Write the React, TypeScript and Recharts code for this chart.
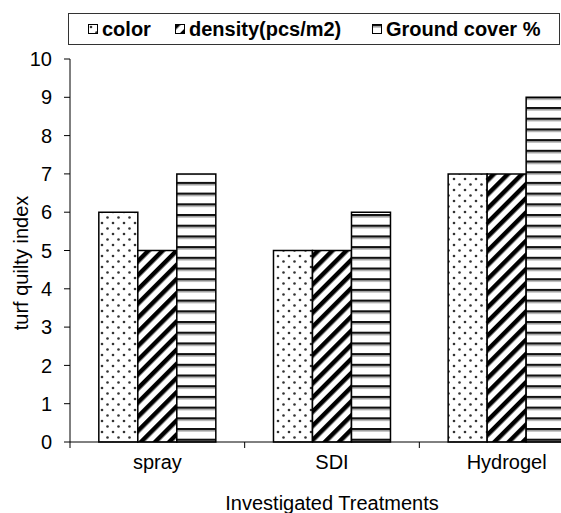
import React from 'react';
import { BarChart, Bar, XAxis, YAxis } from 'recharts';

const categories = ['spray', 'SDI', 'Hydrogel'];
const colorValues = [6, 5, 7];
const densityValues = [5, 5, 7];
const groundCoverValues = [7, 6, 9];
const yTicks = [0, 1, 2, 3, 4, 5, 6, 7, 8, 9, 10];

const seriesNames = ['color', 'density(pcs/m2)', 'Ground cover %'];
const seriesFills = ['url(#dotsPat)', 'url(#diagPat)', 'url(#hlinePat)'];

const data = categories.map((name, i) => ({
  name,
  color: colorValues[i],
  density: densityValues[i],
  ground: groundCoverValues[i],
}));

const FONT = '"Liberation Sans", Arial, sans-serif';
const FS = 20;
const X_TICK_SIZE = 6;
const X_TICK_MARGIN = 7;

// category label in the middle, tick mark on the left band edge (like Excel)
const CategoryTick = (props: any) => {
  const { x, y, payload } = props;
  const half = payload && payload.offset ? payload.offset : 87.3;
  const axisY = y - X_TICK_SIZE - X_TICK_MARGIN;
  const left = (payload ? payload.coordinate : x) - half;
  return (
    <g>
      <line x1={left} x2={left} y1={axisY} y2={axisY + X_TICK_SIZE} stroke="#000" />
      <text x={x} y={y} dy="0.71em" textAnchor="middle" fill="#000" fontSize={FS} fontFamily={FONT}>
        {payload.value}
      </text>
    </g>
  );
};

const Patterns = () => (
  <defs>
    <pattern id="dotsPat" patternUnits="userSpaceOnUse" width="11" height="11">
      <rect width="11" height="11" fill="#fff" />
      <circle cx="3" cy="3" r="1.3" fill="#333" />
      <circle cx="8.5" cy="8.5" r="1.3" fill="#333" />
    </pattern>
    <pattern id="diagPat" patternUnits="userSpaceOnUse" width="10" height="10" patternTransform="rotate(45)">
      <rect width="10" height="10" fill="#fff" />
      <rect width="4.5" height="10" fill="#000" />
    </pattern>
    <pattern id="hlinePat" patternUnits="userSpaceOnUse" width="10" height="10.7">
      <rect width="10" height="10.7" fill="#fff" />
      <rect y="0" width="10" height="2" fill="#111" />
      <rect y="2" width="10" height="1.5" fill="#999" />
    </pattern>
  </defs>
);

const legendLeft = [20, 107, 304];

export default function App() {
  return (
    <div
      style={{
        position: 'absolute',
        left: 0,
        top: 0,
        width: 561,
        height: 513,
        overflow: 'hidden',
        background: '#fff',
        fontFamily: FONT,
      }}
    >
      <BarChart
        width={620}
        height={513}
        data={data}
        margin={{ top: 59, right: 26, bottom: 0, left: 0 }}
        barCategoryGap="16.5%"
        barGap={0}
      >
        <Patterns />
        <XAxis
          dataKey="name"
          height={71}
          tickSize={X_TICK_SIZE}
          tickMargin={X_TICK_MARGIN}
          tickLine={false}
          axisLine={{ stroke: '#000' }}
          tick={<CategoryTick />}
          interval={0}
          label={{
            value: 'Investigated Treatments',
            position: 'insideBottom',
            offset: 3,
            fill: '#000',
            fontSize: FS,
            fontFamily: FONT,
          }}
        />
        <YAxis
          domain={[0, 10]}
          ticks={yTicks}
          interval={0}
          width={70}
          tickSize={6}
          tickMargin={12}
          axisLine={{ stroke: '#000' }}
          tickLine={{ stroke: '#000' }}
          tick={{ fill: '#000', fontSize: FS, fontFamily: FONT }}
          label={{
            content: () => (
              <text
                x={21}
                y={263}
                transform="rotate(-90 21 263)"
                textAnchor="middle"
                dominantBaseline="central"
                fill="#000"
                fontSize={FS}
                fontFamily={FONT}
              >
                turf quilty index
              </text>
            ),
          }}
        />
        <Bar dataKey="color" name={seriesNames[0]} fill={seriesFills[0]} stroke="#000" strokeWidth={1.5} isAnimationActive={false} />
        <Bar dataKey="density" name={seriesNames[1]} fill={seriesFills[1]} stroke="#000" strokeWidth={1.5} isAnimationActive={false} />
        <Bar dataKey="ground" name={seriesNames[2]} fill={seriesFills[2]} stroke="#000" strokeWidth={1.5} isAnimationActive={false} />
      </BarChart>

      <div
        style={{
          position: 'absolute',
          left: 68,
          top: 13,
          width: 492,
          height: 32,
          border: '1px solid #333',
          boxSizing: 'border-box',
          background: '#fff',
        }}
      >
        {seriesNames.map((s, i) => (
          <div
            key={s}
            style={{
              position: 'absolute',
              left: legendLeft[i] - 1,
              top: 0,
              height: 30,
              display: 'flex',
              alignItems: 'center',
              whiteSpace: 'nowrap',
            }}
          >
            <svg width={10} height={10} style={{ marginRight: 4 }}>
              <rect x={0.5} y={0.5} width={9} height={9} fill={seriesFills[i]} stroke="#000" />
            </svg>
            <span style={{ fontWeight: 'bold', fontSize: FS, color: '#000' }}>{s}</span>
          </div>
        ))}
      </div>
    </div>
  );
}
